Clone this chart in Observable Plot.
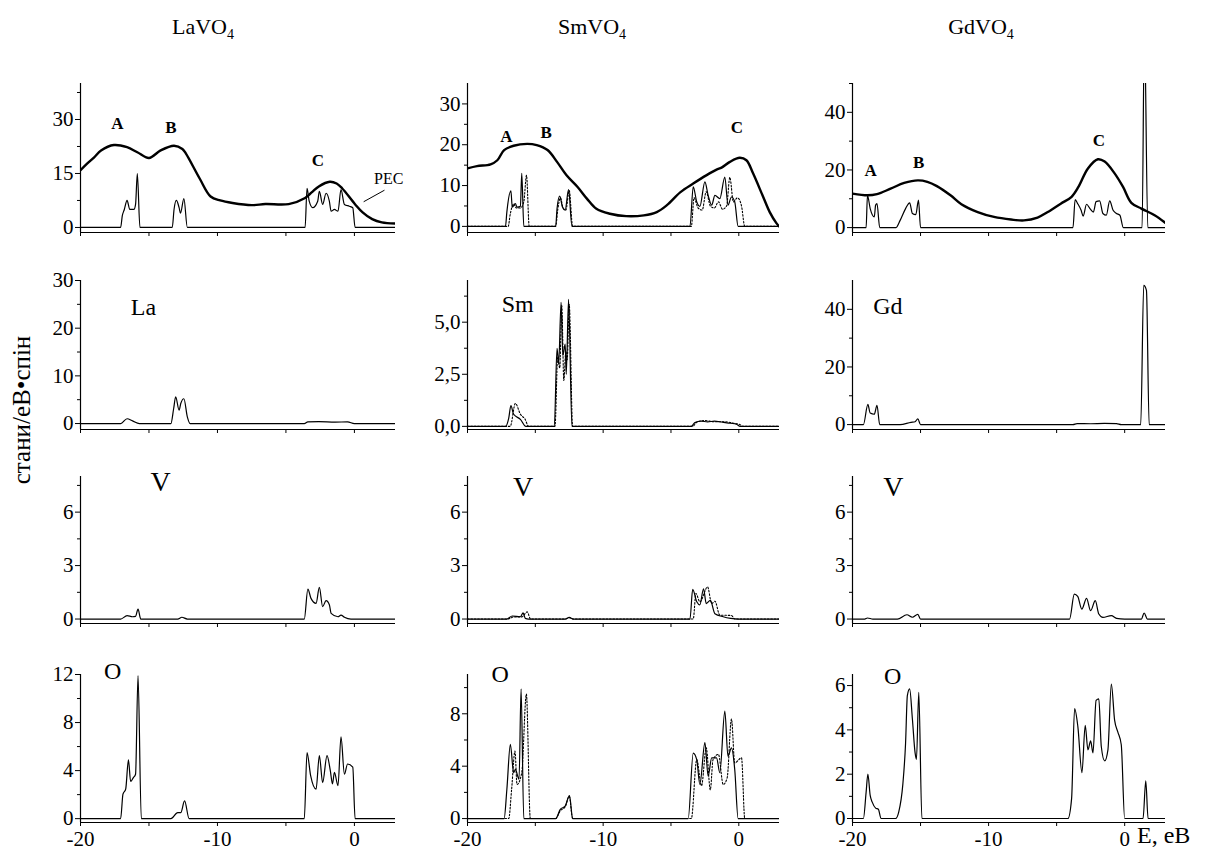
<!DOCTYPE html>
<html><head><meta charset="utf-8">
<script src="https://cdn.jsdelivr.net/npm/d3@7"></script>
<script src="https://cdn.jsdelivr.net/npm/@observablehq/plot@0.6"></script>
<style>
body{margin:0;background:#fff;}
#root{position:relative;width:1215px;height:852px;overflow:hidden;background:#fff;font-family:"Liberation Serif","Times New Roman",serif;color:#000;}
.panel{position:absolute;}
.panel svg{overflow:visible;max-width:none;}
.panel svg text{font-family:"Liberation Serif","Times New Roman",serif !important;}
.title{position:absolute;font-size:22px;transform:translate(-50%,-50%);white-space:nowrap;}
.title sub{font-size:14px;vertical-align:-5px;}
.ylab{position:absolute;left:22px;top:410px;font-size:25px;white-space:nowrap;transform:translate(-50%,-50%) rotate(-90deg);}
.xlab{position:absolute;left:1137px;top:822px;font-size:24px;white-space:nowrap;}
</style></head><body>
<div id="root"></div>
<script>
// ---------- data: [E (eV), states/eV·spin] ----------
const energyTicks = [-20, -15, -10, -5, 0];
const energyLabels = [-20, -10, 0];
const compounds = ["LaVO", "SmVO", "GdVO"];

// Row 1: PEC (thick) + total DOS
const laPEC = [[-20,15.9],[-19.5,17.8],[-19,19.5],[-18.5,21.4],[-17.56,22.9],[-16.6,22.3],[-15.85,20.9],[-15,19.3],[-14.15,21.4],[-13.17,22.7],[-12.56,21.8],[-12.3,20.5],[-11.3,13.6],[-10.5,8.6],[-9.8,7.5],[-8.9,6.8],[-7.5,6.2],[-6.5,6.5],[-4.8,6.5],[-3.6,8.2],[-3.1,9.8],[-2.6,11.4],[-1.8,12.7],[-1.3,12.2],[-0.9,10.9],[0.06,6.4],[0.6,4.2],[1.3,2.3],[2.0,1.4],[3,1.1]];
const laTot = [[-20,0],[-17.07,0],[-16.95,3.2],[-16.8,5],[-16.6,7.5],[-16.4,5],[-16.1,5],[-15.98,6.4],[-15.85,15],[-15.66,0],[-13.3,0],[-13.17,5],[-13.0,7.5],[-12.8,5.5],[-12.7,4],[-12.45,8],[-12.2,0],[-3.6,0],[-3.46,10.9],[-3.3,7.3],[-3.05,5.5],[-2.68,7.3],[-2.56,10],[-2.32,6.4],[-2.07,9.5],[-1.83,7.3],[-1.7,4.5],[-1.46,5],[-1.2,4.5],[-0.98,10.5],[-0.73,6.4],[-0.37,5.9],[-0.12,5.5],[0.05,0],[3,0]];
const smPEC = [[-20,14.2],[-19.3,14.75],[-18.3,15.2],[-17.8,16.2],[-17.3,18.7],[-16.6,19.75],[-15.6,20.2],[-14.9,19.9],[-14.1,18.7],[-13.4,15.8],[-12.7,12.5],[-11.9,9.7],[-11.2,6.8],[-10.5,4.3],[-9.5,3.1],[-8.3,2.5],[-7.0,2.7],[-6.05,3.5],[-5.3,5.2],[-4.3,8.4],[-3.36,10.5],[-2.4,12.5],[-1.64,13.9],[-1.27,14.4],[-0.66,15.8],[0.07,16.8],[0.56,16.2],[1.05,13],[1.8,7.2],[2.28,3.5],[2.77,0.8],[2.97,0]];
const smTot = [[-20,0],[-17.2,0],[-17.1,3.5],[-16.8,8.7],[-16.7,4.7],[-16.47,5.6],[-16.35,4.7],[-16.1,4.9],[-16.0,13],[-15.85,0],[-13.5,0],[-13.4,4.3],[-13.2,7.4],[-13.0,4.75],[-12.8,4],[-12.55,9],[-12.3,0],[-3.6,0],[-3.36,9.7],[-3.1,6],[-2.87,4.9],[-2.5,10.9],[-2.26,7.6],[-2.0,5.2],[-1.76,7.6],[-1.4,6.8],[-1.03,12.1],[-0.8,5.2],[-0.54,7.2],[-0.3,6.0],[-0.05,0],[3,0]];
const smTotD = [[-20,0],[-17.0,0],[-16.85,3],[-16.6,5.5],[-16.4,4.5],[-16.1,4.5],[-15.85,6],[-15.65,12.5],[-15.45,0],[-13.5,0],[-13.35,4],[-13.15,7],[-12.95,4.5],[-12.75,4],[-12.5,8.8],[-12.25,0],[-3.5,0],[-3.3,7],[-3.0,4.5],[-2.7,4],[-2.4,8.5],[-2.1,5],[-1.8,4.5],[-1.5,6],[-1.2,4.2],[-0.9,5],[-0.66,12],[-0.4,6],[-0.1,7],[0.2,5],[0.44,0],[3,0]];
const gdPEC = [[-20,11.8],[-18.9,11.2],[-18.2,11.6],[-17.2,13.5],[-16.2,15.5],[-15.2,16.4],[-14.5,15.9],[-13.8,14.4],[-12.8,11.2],[-12.0,8.1],[-10.8,5.4],[-9.6,3.7],[-8.35,2.8],[-7.4,2.5],[-6.4,3.5],[-5.65,5.4],[-4.7,8.3],[-3.9,10.7],[-3.4,14.1],[-2.7,20.5],[-1.97,23.7],[-1.47,22.9],[-0.74,18.8],[-0.12,14.1],[0.49,8.6],[1.23,6.6],[2.2,4.3],[3,1.6]];
const gdTot = [[-20,0],[-19.0,0],[-18.9,11.2],[-18.7,6.6],[-18.4,3.7],[-18.3,7.8],[-18.2,8.3],[-18.0,0],[-16.8,0],[-16.5,2.5],[-16.1,6.6],[-15.8,8.6],[-15.6,4.9],[-15.35,4.5],[-15.15,9.5],[-15.0,0],[-3.8,0],[-3.64,9.7],[-3.45,8.3],[-3.2,6.0],[-3.05,4],[-2.8,8.1],[-2.55,6.6],[-2.3,5.4],[-2.1,9],[-1.84,9.3],[-1.6,4.9],[-1.35,4.3],[-1.1,9.3],[-0.85,6.0],[-0.6,4.9],[-0.35,4.3],[-0.1,0],[1.28,0],[1.45,70],[1.7,0],[3,0]];

// Row 2: rare-earth partial DOS
const laLa = [[-20,0],[-17.07,0],[-16.6,1.0],[-16.2,0.55],[-15.7,0],[-13.4,0],[-13.2,3.1],[-13.05,5.6],[-12.8,2.8],[-12.68,4.2],[-12.45,5.2],[-12.2,1.4],[-12.0,0],[-3.66,0],[-3.4,0.35],[-2.6,0.4],[-1.4,0.3],[-0.5,0.35],[0,0],[3,0]];
const smSm = [[-20,0],[-17.2,0],[-16.96,0.4],[-16.8,1.0],[-16.6,0.58],[-16.1,0.34],[-15.7,0],[-13.6,0],[-13.4,3.75],[-13.28,3.0],[-13.1,5.95],[-12.97,3.4],[-12.8,3.95],[-12.72,2.5],[-12.55,6.1],[-12.3,0],[-3.5,0],[-3.24,0.18],[-2.8,0.25],[-2.3,0.22],[-1.8,0.25],[-1.2,0.2],[-0.6,0.15],[-0.17,0.1],[0.1,0],[3,0]];
const smSmD = [[-20,0],[-16.85,0],[-16.47,1.1],[-16.1,0.58],[-15.75,0.34],[-15.5,0],[-13.55,0],[-13.35,3.3],[-13.2,2.8],[-13.05,5.8],[-12.9,2.2],[-12.75,3.6],[-12.65,3.2],[-12.5,5.85],[-12.25,0],[-3.4,0],[-3.1,0.2],[-2.5,0.28],[-1.8,0.22],[-1.0,0.22],[-0.4,0.15],[0.1,0.08],[0.3,0],[3,0]];
const gdGd = [[-20,0],[-19.2,0],[-18.87,7.0],[-18.7,4],[-18.4,3.6],[-18.2,6.7],[-18.0,0],[-16.5,0],[-15.7,0.8],[-15.4,1.0],[-15.2,2],[-15.0,0],[-3.8,0],[-3.5,0.35],[-2.5,0.3],[-1.5,0.4],[-0.6,0.35],[-0.25,0],[1.18,0],[1.4,48.3],[1.6,46.6],[1.8,0],[3,0]];

// Row 3: V partial DOS
const laV = [[-20,0],[-17.07,0],[-16.6,0.19],[-16.2,0.13],[-15.98,0.15],[-15.8,0.56],[-15.6,0],[-12.9,0],[-12.6,0.1],[-12.2,0],[-3.66,0],[-3.4,1.68],[-3.17,1.16],[-2.8,0.88],[-2.56,1.78],[-2.32,0.7],[-2.07,1.03],[-1.83,0.8],[-1.7,0.32],[-1.2,0.13],[-0.98,0.22],[-0.73,0.1],[-0.25,0],[3,0]];
const smV = [[-20,0],[-17.1,0],[-16.7,0.17],[-16.1,0.13],[-15.9,0.35],[-15.74,0.04],[-15.5,0],[-12.8,0],[-12.5,0.09],[-12.2,0],[-3.6,0],[-3.4,1.66],[-3.1,0.97],[-2.87,0.8],[-2.6,1.7],[-2.4,0.87],[-2.1,1.05],[-1.76,0.3],[-1.15,0.13],[-0.6,0.04],[0,0],[3,0]];
const smVD = [[-20,0],[-17.0,0],[-16.6,0.12],[-16.0,0.12],[-15.6,0.4],[-15.35,0],[-12.8,0],[-12.5,0.08],[-12.2,0],[-3.36,0],[-3.16,1.43],[-2.87,0.97],[-2.3,1.8],[-2.0,0.87],[-1.76,1.0],[-1.4,0.22],[-0.54,0.2],[-0.3,0],[3,0]];
const gdV = [[-20,0],[-19.1,0],[-18.9,0.06],[-18.5,0],[-16.7,0],[-16.0,0.24],[-15.6,0.1],[-15.2,0.26],[-15.0,0],[-4.05,0],[-3.7,1.4],[-3.45,1.27],[-3.15,0.56],[-2.8,1.16],[-2.5,0.47],[-2.16,1.03],[-1.9,0.28],[-1.6,0.09],[-0.98,0.19],[-0.6,0.04],[0,0],[1.23,0],[1.43,0.34],[1.67,0],[3,0]];

// Row 4: O partial DOS
const laO = [[-20,0],[-17.07,0],[-16.9,2.04],[-16.7,2.46],[-16.5,4.9],[-16.34,3.1],[-16.15,3.4],[-15.98,3.7],[-15.8,11.9],[-15.56,0],[-13.4,0],[-12.9,0.5],[-12.68,0.5],[-12.4,1.48],[-12.07,0],[-3.66,0],[-3.46,5.5],[-3.2,3.6],[-2.8,2.46],[-2.56,5.25],[-2.32,3.0],[-2.0,5.25],[-1.76,4.0],[-1.6,2.9],[-1.46,3.86],[-1.2,2.74],[-0.98,6.8],[-0.73,3.7],[-0.5,4.55],[-0.12,4.28],[0.05,0],[3,0]];
const smO = [[-20,0],[-17.3,0],[-17.1,2.2],[-16.84,5.66],[-16.6,3.5],[-16.47,3.75],[-16.2,3.0],[-16.05,9.9],[-15.85,0],[-13.5,0],[-13.16,0.7],[-12.8,0.95],[-12.48,1.76],[-12.25,0],[-3.73,0],[-3.36,5.0],[-3.1,4.5],[-2.87,2.6],[-2.5,5.8],[-2.26,3.24],[-2.0,4.64],[-1.64,4.64],[-1.4,3.5],[-1.03,8.2],[-0.8,4.77],[-0.54,5.4],[-0.3,3.75],[-0.05,0],[3,0]];
const smOD = [[-20,0],[-16.96,0],[-16.75,2.2],[-16.5,5.15],[-16.35,2.6],[-16.0,3.5],[-15.66,9.5],[-15.37,0],[-13.5,0],[-13.16,0.6],[-12.8,0.9],[-12.5,1.7],[-12.25,0],[-3.5,0],[-3.1,4.5],[-2.75,2.5],[-2.4,5.4],[-2.1,2.2],[-1.9,4.5],[-1.5,4.9],[-1.15,2.6],[-0.86,3.1],[-0.54,7.6],[-0.3,4.25],[0.2,4.64],[0.44,0],[3,0]];
const gdO = [[-20,0],[-19.2,0],[-19.0,1.18],[-18.87,2.0],[-18.7,1.04],[-18.55,0.74],[-18.3,0.47],[-18.1,0.42],[-17.9,0],[-16.83,0],[-16.6,0.3],[-16.3,1.55],[-16.1,3.4],[-15.97,5.55],[-15.8,5.85],[-15.6,4.5],[-15.4,2.96],[-15.3,2.67],[-15.13,5.7],[-14.9,0],[-4.17,0],[-3.9,0.9],[-3.68,4.96],[-3.44,4.15],[-3.14,2.07],[-2.9,4.2],[-2.7,3.1],[-2.5,3.5],[-2.33,2.96],[-2.1,5.33],[-1.9,5.4],[-1.72,3.26],[-1.47,2.6],[-1.23,3.1],[-0.98,6.07],[-0.74,4.44],[-0.5,3.9],[-0.25,3.33],[0,0],[1.35,0],[1.55,1.7],[1.72,0],[3,0]];

// ---------- layout ----------
const colFrames = [[80,395],[467,779],[852,1165]];
const rowFrames = [[83,232],[280,429],[476,623],[674,822]];
const ML = 60, MR = 45, MT = 20, MB = 30;

const intFmt = d => String(d);
const commaFmt = d => d.toFixed(1).replace(".", ",");

const panels = [
  {r:0,c:0,y:[-1.4,40],major:[0,15,30],minor:[7.5,22.5,37.5],fmt:intFmt,solid:[laTot],thick:laPEC,dotted:[],
   labels:[{t:"A",x:-17.3,y:28.9,b:true},{t:"B",x:-13.4,y:27.8,b:true},{t:"C",x:-2.66,y:18.6,b:true},{t:"PEC",x:2.5,y:13.6,s:16}],
   leader:[[0.7,7.2],[2.17,10.3]]},
  {r:0,c:1,y:[-1.5,35],major:[0,10,20,30],minor:[5,15,25],fmt:intFmt,solid:[smTot],thick:smPEC,dotted:[smTotD],
   labels:[{t:"A",x:-17.13,y:22.1,b:true},{t:"B",x:-14.2,y:22.9,b:true},{t:"C",x:-0.15,y:24.1,b:true}]},
  {r:0,c:2,y:[-1.7,50],major:[0,20,40],minor:[10,30,50],fmt:intFmt,solid:[gdTot],thick:gdPEC,dotted:[],
   labels:[{t:"A",x:-18.67,y:19.8,b:true},{t:"B",x:-15.13,y:22.6,b:true},{t:"C",x:-1.9,y:30.3,b:true}]},
  {r:1,c:0,y:[-1.25,30],major:[0,10,20,30],minor:[5,15,25],fmt:intFmt,solid:[laLa],dotted:[],
   labels:[{t:"La",x:-15.4,y:24.3}]},
  {r:1,c:1,y:[-0.15,7],major:[0,2.5,5],minor:[1.25,3.75,6.25],fmt:commaFmt,solid:[smSm],dotted:[smSmD],
   labels:[{t:"Sm",x:-16.3,y:5.87}]},
  {r:1,c:2,y:[-1.7,50],major:[0,20,40],minor:[10,30],fmt:intFmt,solid:[gdGd],dotted:[],
   labels:[{t:"Gd",x:-17.4,y:41}]},
  {r:2,c:0,y:[-0.25,8],major:[0,3,6],minor:[1.5,4.5,7.5],fmt:intFmt,solid:[laV],dotted:[],
   labels:[{t:"V",x:-14.15,y:7.7,s:28}]},
  {r:2,c:1,y:[-0.25,8],major:[0,3,6],minor:[1.5,4.5,7.5],fmt:intFmt,solid:[smV],dotted:[smVD],
   labels:[{t:"V",x:-15.9,y:7.4,s:28}]},
  {r:2,c:2,y:[-0.25,8],major:[0,3,6],minor:[1.5,4.5,7.5],fmt:intFmt,solid:[gdV],dotted:[],
   labels:[{t:"V",x:-17.0,y:7.4,s:28}]},
  {r:3,c:0,y:[-0.32,12],major:[0,4,8,12],minor:[2,6,10],fmt:intFmt,solid:[laO],dotted:[],
   labels:[{t:"O",x:-17.66,y:12.3}]},
  {r:3,c:1,y:[-0.3,11],major:[0,4,8],minor:[2,6,10],fmt:intFmt,solid:[smO],dotted:[smOD],
   labels:[{t:"O",x:-17.6,y:11.0}]},
  {r:3,c:2,y:[-0.18,6.5],major:[0,2,4,6],minor:[1,3,5],fmt:intFmt,solid:[gdO],dotted:[],
   labels:[{t:"O",x:-17.05,y:6.44}]}
];

const root = document.getElementById("root");
const font = '"Liberation Serif","Times New Roman",serif';

for (const p of panels) {
  const [fx0, fx1] = colFrames[p.c];
  const [fy0, fy1] = rowFrames[p.r];
  const width = fx1 - fx0 + ML + MR;
  const height = fy1 - fy0 + MT + MB;
  const marks = [];
  marks.push(Plot.ruleX([-20], {stroke:"black", strokeWidth:1.2}));
  marks.push(Plot.ruleY([p.y[0]], {stroke:"black", strokeWidth:1.2}));
  marks.push(Plot.axisY(p.major, {tickSize:5, tickPadding:2, tickFormat:p.fmt, fontSize:21, fontFamily:font, label:null, stroke:"black"}));
  marks.push(Plot.axisY(p.minor, {tickSize:3, tickFormat:() => "", label:null, stroke:"black"}));
  const lastRow = p.r === 3;
  marks.push(Plot.axisX(energyTicks, {tickSize:4, tickPadding:5, fontSize:21, fontFamily:font, label:null, stroke:"black",
    tickFormat: d => (lastRow && energyLabels.includes(d)) ? String(d) : ""}));
  for (const s of p.dotted) marks.push(Plot.line(s, {stroke:"black", strokeWidth:1.1, strokeDasharray:"1.6,1.8", curve:"monotone-x", clip:true}));
  for (const s of p.solid) marks.push(Plot.line(s, {stroke:"black", strokeWidth:1.2, curve:"monotone-x", clip:true}));
  if (p.thick) marks.push(Plot.line(p.thick, {stroke:"black", strokeWidth:2.4, curve:"catmull-rom", clip:true}));
  if (p.leader) marks.push(Plot.line(p.leader, {stroke:"black", strokeWidth:1}));
  for (const l of p.labels) {
    marks.push(Plot.text([l], {x:"x", y:"y", text:"t", fontSize: l.s || (l.b ? 17 : 24),
      fontFamily:font, fontWeight: l.b ? "bold" : "normal", fill:"black"}));
  }
  const svg = Plot.plot({
    width, height,
    marginLeft: ML, marginRight: MR, marginTop: MT, marginBottom: MB,
    x: {domain:[-20,3]},
    y: {domain:p.y},
    style: {fontFamily: font, color:"black", background:"transparent", overflow:"visible"},
    marks
  });
  const div = document.createElement("div");
  div.className = "panel";
  div.style.left = (fx0 - ML) + "px";
  div.style.top = (fy0 - MT) + "px";
  div.appendChild(svg);
  root.appendChild(div);
}

// titles
const titleX = [203, 592, 981];
compounds.forEach((c, i) => {
  const d = document.createElement("div");
  d.className = "title";
  d.style.left = titleX[i] + "px";
  d.style.top = "28px";
  d.innerHTML = c + "<sub>4</sub>";
  root.appendChild(d);
});
const yl = document.createElement("div");
yl.className = "ylab";
yl.textContent = "стани/еВ•спін";
root.appendChild(yl);
const xl = document.createElement("div");
xl.className = "xlab";
xl.textContent = "E, еВ";
root.appendChild(xl);
</script>
</body></html>
